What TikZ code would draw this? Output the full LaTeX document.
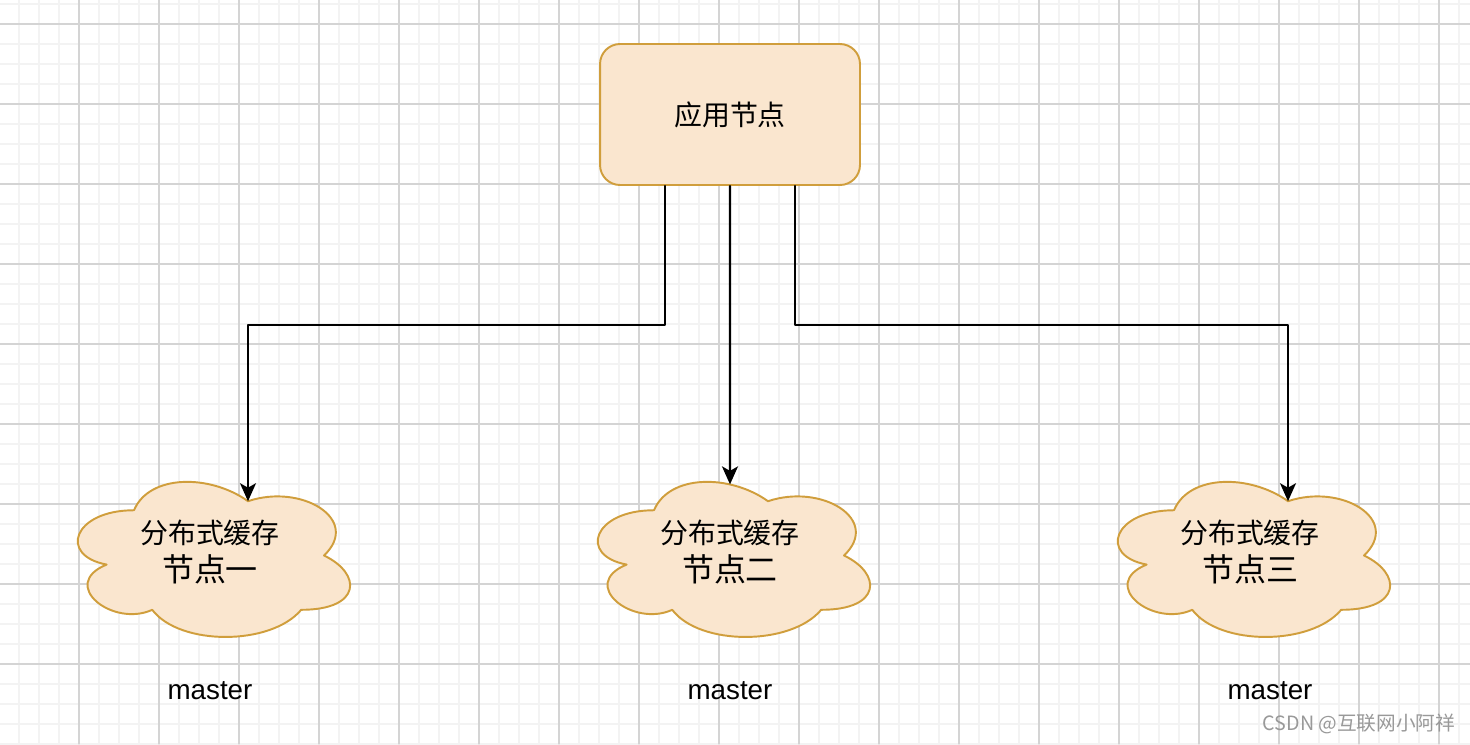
\documentclass[tikz,border=0pt]{standalone}
\usepackage{fontspec}
\setmainfont{Liberation Sans}
\newfontfamily\cjk{Noto Sans CJK SC}
\usetikzlibrary{arrows.meta,positioning}
\definecolor{cachefill}{HTML}{FAE6CF}
\definecolor{cachedraw}{HTML}{D09E3C}
\definecolor{gridminor}{HTML}{F3F3F3}
\definecolor{gridmajor}{HTML}{D4D4D4}
\def\CloudTop{465}
\def\CloudW{304}
\def\CloudH{181}
\def\BranchDrop{139}

% draw.io style cloud: #1 = centre x, #2 = name
\newcommand{\cachecloud}[2]{%
  \begin{scope}[shift={(#1-\CloudW/2,\CloudTop)}, xscale=\CloudW/100, yscale=\CloudH/100]
    \draw[cloud] (25,25)
      .. controls (5,25) and (0,50) .. (16,55)
      .. controls (0,66) and (18,90) .. (31,80)
      .. controls (40,100) and (70,100) .. (80,80)
      .. controls (100,80) and (100,60) .. (87.5,50)
      .. controls (100,30) and (80,10) .. (62.5,20)
      .. controls (50,5) and (30,5) .. cycle;
    \coordinate (#2-in) at (62.5,20);
    \coordinate (#2-top) at (50,10.7);
  \end{scope}}

\begin{document}
\begin{tikzpicture}[
  x=0.02cm, y=-0.02cm, line cap=round, line join=round,
  minorline/.style={gridminor, line width=0.9pt},
  majorline/.style={gridmajor, line width=0.6pt},
  appbox/.style={draw=cachedraw, fill=cachefill, line width=1.1pt,
    rounded corners=0.4cm, minimum width=5.2cm, minimum height=2.82cm,
    inner sep=0pt, font=\cjk\fontsize{15.9}{19}\selectfont},
  cloud/.style={draw=cachedraw, fill=cachefill, line width=1.1pt},
  cachetext/.style={align=center, inner sep=0pt,
    font=\cjk\fontsize{15.9}{21.6}\selectfont},
  role/.style={font=\fontsize{15.8}{19}\selectfont},
  watermark/.style={black!40, font=\cjk\fontsize{11.2}{13}\selectfont},
  link/.style={black, line width=1.2pt,
    -{Stealth[length=0.36cm, width=0.32cm, inset=0.09cm]}}
]
\useasboundingbox (0,0) rectangle (1470,744);
\fill[white] (0,0) rectangle (1470,744);

% --- background grid ---
\foreach \gx in {19,39,...,1459} \draw[minorline] (\gx,0) -- (\gx,744);
\foreach \gy in {4,24,...,744} \draw[minorline] (0,\gy) -- (1470,\gy);
\foreach \gx in {79,159,...,1439} \draw[majorline] (\gx,0) -- (\gx,744);
\foreach \gy in {24,104,...,664} \draw[majorline] (0,\gy) -- (1470,\gy);

% --- application node ---
\node[appbox] (app) at (730,114.5) {应用节点};
\coordinate (out1) at ([xshift=-1.3cm]app.south);
\coordinate (out2) at (app.south);
\coordinate (out3) at ([xshift=1.3cm]app.south);

% --- cache nodes ---
\foreach \cx/\nm/\num/\mx in {210/cache1/一/210, 730/cache2/二/730, 1250/cache3/三/1270} {
  \cachecloud{\cx}{\nm}
  \node[cachetext] (\nm-label) at (\cx,552)
    {分布式缓存\\{\fontsize{18.2}{21.6}\selectfont 节点\num}};
  \node[role] (\nm-role) at (\mx,691) {master};
}

% --- links ---
\draw[link] (out1) -- ++(0,\BranchDrop) -| (cache1-in);
\draw[link] (out2) -- (cache2-top);
\draw[link] (out3) -- ++(0,\BranchDrop) -| (cache3-in);

\node[watermark] (mark) at (1359,724) {CSDN @互联网小阿祥};
\end{tikzpicture}
\end{document}
